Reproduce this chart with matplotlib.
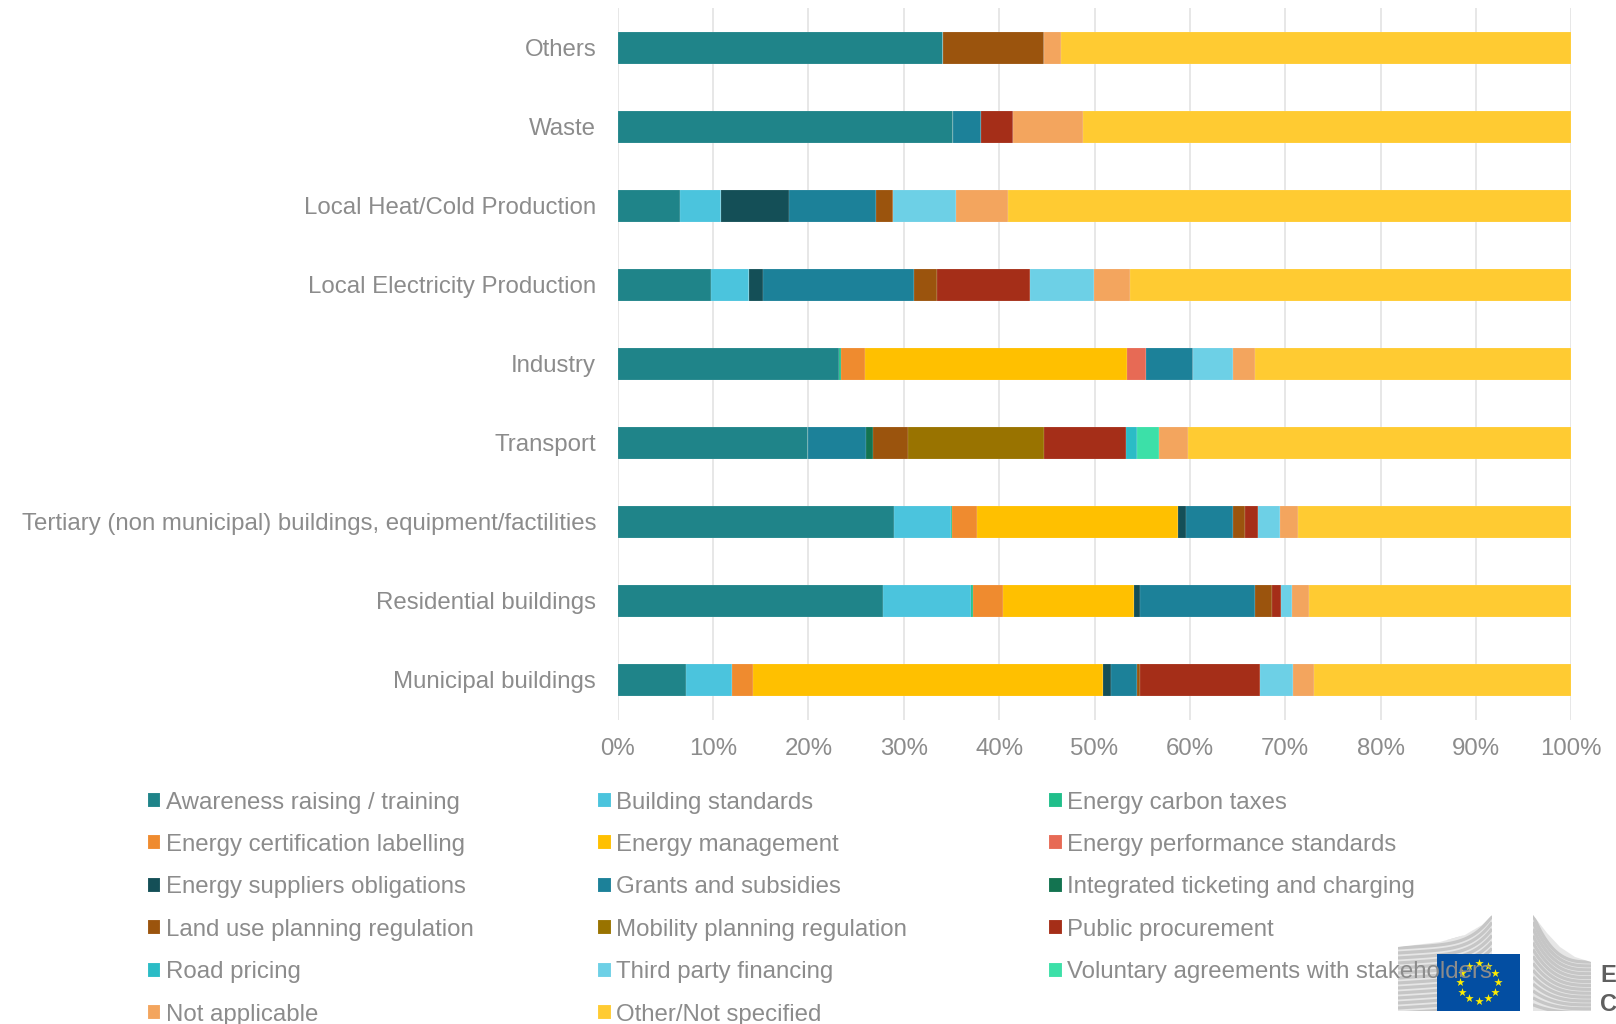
import numpy as np
import matplotlib
matplotlib.use("Agg")
import matplotlib.pyplot as plt
from matplotlib.patches import Rectangle, Polygon
from matplotlib.transforms import ScaledTranslation

plt.rcParams['font.family'] = ['Liberation Sans', 'DejaVu Sans']

categories = ["Municipal buildings", "Residential buildings",
              "Tertiary (non municipal) buildings, equipment/factilities", "Transport",
              "Industry", "Local Electricity Production", "Local Heat/Cold Production",
              "Waste", "Others"]
percent_ticks = [0, 10, 20, 30, 40, 50, 60, 70, 80, 90, 100]

awareness = [7.17, 27.85, 29.0, 20.0, 23.2, 9.75, 6.5, 35.2, 34.1]
building = [4.8, 9.2, 5.9, 0, 0, 4.05, 4.3, 0, 0]
carbon = [0, 0.25, 0.15, 0, 0.2, 0, 0, 0, 0]
certification = [2.23, 3.15, 2.65, 0, 2.55, 0, 0, 0, 0]
management = [36.7, 13.7, 21.05, 0, 27.45, 0, 0, 0, 0]
performance = [0, 0, 0, 0, 2.0, 0, 0, 0, 0]
suppliers = [0.8, 0.65, 0.85, 0, 0, 1.45, 7.2, 0, 0]
grants = [2.73, 12.07, 4.95, 6.0, 4.9, 15.8, 9.1, 2.9, 0]
integrated = [0, 0, 0, 0.8, 0, 0, 0, 0, 0]
land_use = [0.37, 1.78, 1.25, 3.6, 0, 2.4, 1.8, 0, 10.6]
mobility = [0, 0, 0, 14.3, 0, 0, 0, 0, 0]
procurement = [12.56, 0.95, 1.35, 8.6, 0, 9.8, 0, 3.4, 0]
road = [0, 0, 0, 1.15, 0, 0, 0, 0, 0]
third_party = [3.49, 1.1, 2.35, 0, 4.2, 6.7, 6.6, 0, 0]
voluntary = [0, 0, 0, 2.35, 0, 0, 0, 0, 0]
not_applicable = [2.18, 1.8, 1.85, 3.0, 2.3, 3.75, 5.4, 7.3, 1.8]
other = [26.97, 27.5, 28.65, 40.2, 33.2, 46.25, 59.1, 51.2, 53.5]

series = [
    ("Awareness raising / training", awareness, "#1F8489"),
    ("Building standards", building, "#4BC4DD"),
    ("Energy carbon taxes", carbon, "#20BE8A"),
    ("Energy certification labelling", certification, "#EF8B2F"),
    ("Energy management", management, "#FFC000"),
    ("Energy performance standards", performance, "#E76A55"),
    ("Energy suppliers obligations", suppliers, "#144F57"),
    ("Grants and subsidies", grants, "#1C8199"),
    ("Integrated ticketing and charging", integrated, "#137350"),
    ("Land use planning regulation", land_use, "#9B540D"),
    ("Mobility planning regulation", mobility, "#997300"),
    ("Public procurement", procurement, "#A52E18"),
    ("Road pricing", road, "#2BBCC6"),
    ("Third party financing", third_party, "#6DD0E6"),
    ("Voluntary agreements with stakeholders", voluntary, "#3CE0A8"),
    ("Not applicable", not_applicable, "#F3A55E"),
    ("Other/Not specified", other, "#FFCB32"),
]

W, H = 1616, 1024
GREY = "#8C8C8C"
FS = 17.3

fig = plt.figure(figsize=(W / 100, H / 100), dpi=100, facecolor="white")
ax = fig.add_axes([617.7 / W, 1 - 719.5 / H, (1571.3 - 617.7) / W, (719.5 - 8) / H])

y = np.arange(len(categories))
left = np.zeros(len(categories))
containers = []
for name, vals, col in series:
    vals = np.array(vals, dtype=float)
    containers.append(ax.barh(y, vals, left=left, height=0.405, color=col, label=name, zorder=3,
                              edgecolor=(1, 1, 1, 0.3), linewidth=0.3))
    left += vals

ax.set_xlim(0, 100)
ax.set_ylim(-0.5, len(categories) - 0.5)
ax.set_yticks(y, categories)
ax.set_xticks(percent_ticks, [f"{p}%" for p in percent_ticks])
ax.tick_params(axis='both', length=0, labelsize=FS, labelcolor=GREY)
ax.tick_params(axis='y', pad=15.5)
ax.tick_params(axis='x', pad=13.5)
ax.grid(axis='x', color="#E0E0E0", lw=1.1, zorder=0)
ax.set_axisbelow(True)
for s in ax.spines.values():
    s.set_visible(False)
up = ScaledTranslation(0, 0.4 / 100, fig.dpi_scale_trans)
for lab in ax.get_yticklabels():
    lab.set_transform(lab.get_transform() + up)

# overlay in pixel coordinates: logo and legend placement
ov = fig.add_axes([0, 0, 1, 1], facecolor="none", zorder=5)
ov.set_xlim(0, W)
ov.set_ylim(H, 0)
ov.axis("off")

# logo: building wings, stripes clipped to the wing outlines
wing = "#C6C6C6"
left_wing = Polygon([(1398, 947), (1440, 942), (1465, 935), (1482, 925), (1492, 915), (1492, 954),
                     (1437, 954), (1437, 1011), (1398, 1011)], closed=True, facecolor="#E6E6E6",
                    edgecolor="none", zorder=1)
ov.add_patch(left_wing)
xs = np.linspace(1398, 1492, 60)
t = (xs - 1398) / 94
for k in range(14):
    base = 948 + k * 5.0
    line, = ov.plot(xs, base - 6 * t - max(26 - k * 1.5, 0) * t ** 5, color=wing, lw=2.3,
                    solid_capstyle='butt', zorder=1.5)
    line.set_clip_path(left_wing)
for k in range(1, 6):
    line, = ov.plot(xs, 948 - k * 5.5 - 6 * t - 30 * t ** 5,
                    color=wing, lw=2.0, solid_capstyle='butt', zorder=1.5)
    line.set_clip_path(left_wing)

right_wing = Polygon([(1533, 915), (1547, 933), (1560, 947), (1575, 957), (1591, 962), (1591, 1011),
                      (1533, 1011)], closed=True, facecolor="#E6E6E6", edgecolor="none", zorder=1)
ov.add_patch(right_wing)
xs = np.linspace(1533, 1591, 40)
t = (xs - 1533) / 58
for k in range(14):
    base = 915 + k * 6.9
    line, = ov.plot(xs, base + max(47 - k * 3.0, 2) * (1 - (1 - t) ** 3), color=wing, lw=2.3,
                    solid_capstyle='butt', zorder=1.5)
    line.set_clip_path(right_wing)

ov.add_patch(Rectangle((1437, 954), 83, 57, facecolor="#034EA2", edgecolor="none", zorder=2))
angles = np.deg2rad(np.arange(0, 360, 30))
ov.scatter(1478.7 + 19 * np.cos(angles), 982 + 19 * np.sin(angles), marker='*', s=40,
           color="#FFED00", linewidths=0, zorder=3)
ov.text(1600, 982, "E", fontsize=17, fontweight='bold', color="#5F5F5F", va='baseline', ha='left', zorder=3)
ov.text(1600, 1011, "C", fontsize=17, fontweight='bold', color="#5F5F5F", va='baseline', ha='left', zorder=3)

# legends: row-first order, three separately positioned columns
col_x = [147.5, 598, 1049]
for i, cx in enumerate(col_x):
    hs = containers[i::3]
    leg = ov.legend(hs, [s[0] for s in series[i::3]], loc='upper left',
                    bbox_to_anchor=(cx, 791.5), bbox_transform=ov.transData,
                    frameon=False, fontsize=FS, labelcolor=GREY, borderpad=0, borderaxespad=0,
                    handlelength=0.53, handleheight=0.53, handletextpad=0.22,
                    labelspacing=0.85, ncol=1)
    leg.set_zorder(6)
    if i < len(col_x) - 1:
        ov.add_artist(leg)

fig.savefig("out.png", dpi=100, facecolor="white")
